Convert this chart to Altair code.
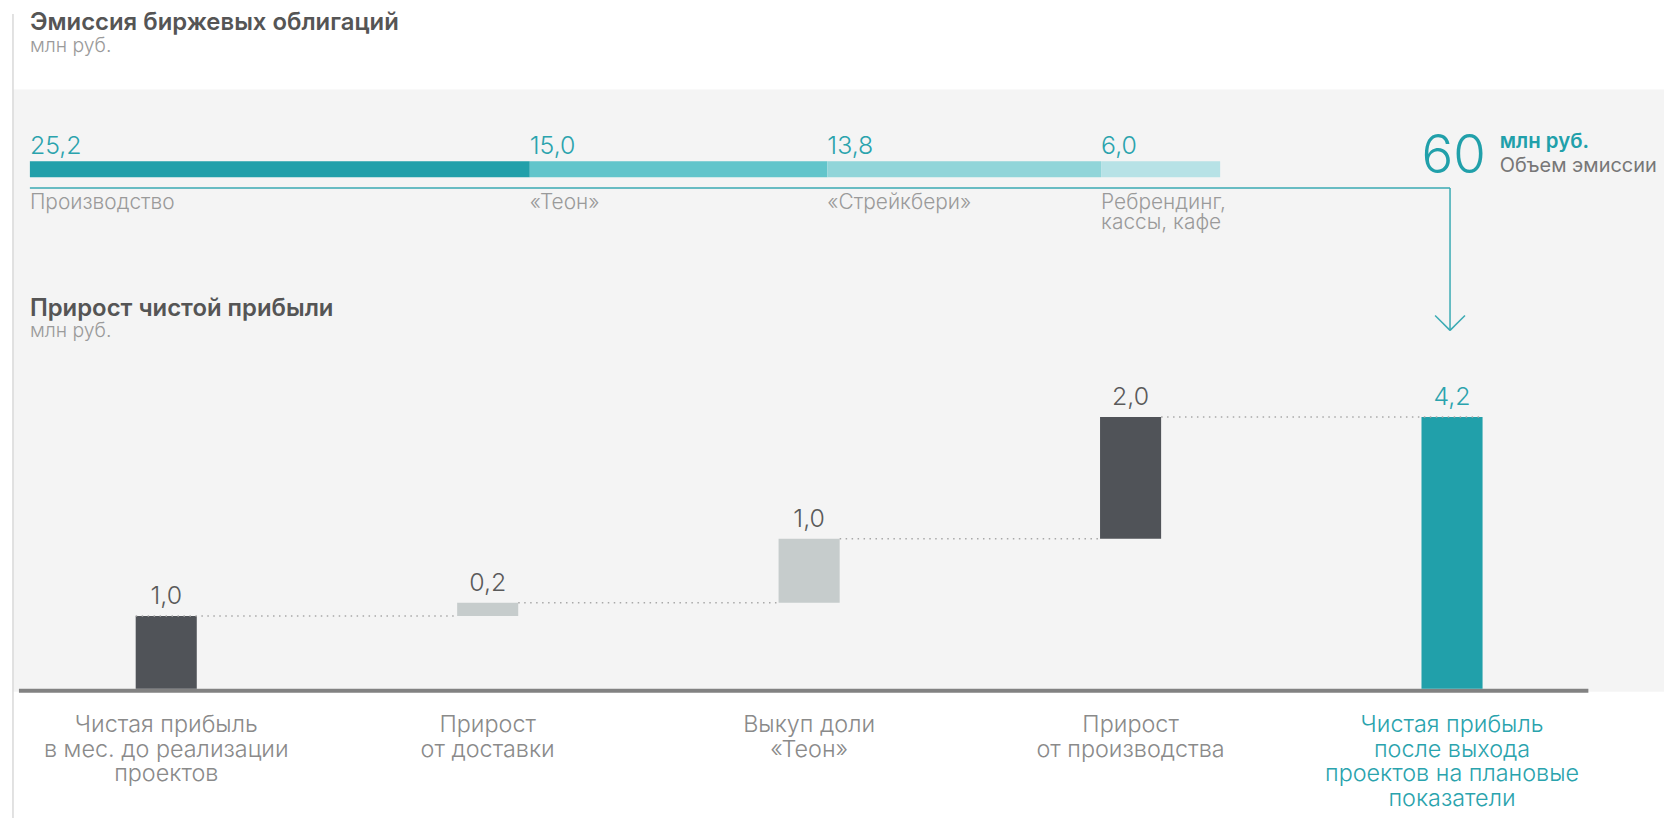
import altair as alt
import pandas as pd

# ---------------- data ----------------
emission_cats = ["Производство", "«Теон»", "«Стрейкбери»", "Ребрендинг,\nкассы, кафе"]
emission_vals = [25.2, 15.0, 13.8, 6.0]
emission_colors = ["#21a0aa", "#62c5cb", "#91d5d9", "#b7e2e6"]
emission_total = 60

wf_labels = [
    "Чистая прибыль\nв мес. до реализации\nпроектов",
    "Прирост\nот доставки",
    "Выкуп доли\n«Теон»",
    "Прирост\nот производства",
    "Чистая прибыль\nпосле выхода\nпроектов на плановые\nпоказатели",
]
wf_vals = [1.0, 0.2, 1.0, 2.0, 4.2]
wf_kind = ["total", "delta", "delta", "delta", "total"]
wf_colors = ["#505358", "#c6cccc", "#c6cccc", "#505358", "#21a0aa"]
wf_text_colors = ["#5a5a5a", "#5a5a5a", "#5a5a5a", "#5a5a5a", "#2aa3ad"]
wf_label_colors = ["#8a8a8a", "#8a8a8a", "#8a8a8a", "#8a8a8a", "#2aa3ad"]


def fmt(v):
    return f"{v:.1f}".replace(".", ",")


# ---------------- tables ----------------
starts, acc = [], 0.0
for v in emission_vals:
    starts.append(acc)
    acc += v
top_df = pd.DataFrame({
    "cat": emission_cats,
    "start": starts,
    "end": [s + v for s, v in zip(starts, emission_vals)],
    "color": emission_colors,
    "label": [fmt(v) for v in emission_vals],
})

HW = 0.095
lo, hi, run = [], [], 0.0
for v, k in zip(wf_vals, wf_kind):
    if k == "total":
        lo.append(0.0); hi.append(v); run = v
    else:
        lo.append(run); hi.append(run + v); run += v
n = len(wf_vals)
wf_df = pd.DataFrame({
    "idx": list(range(n)),
    "x0": [i - HW for i in range(n)],
    "x1": [i + HW for i in range(n)],
    "lo": lo, "hi": hi,
    "color": wf_colors,
    "tcolor": wf_text_colors,
    "lcolor": wf_label_colors,
    "num": [fmt(v) for v in wf_vals],
    "name": wf_labels,
})
dots_df = pd.DataFrame({
    "level": hi[:-1],
    "xs": [(i - HW) if i == 0 else (i + HW) for i in range(n - 1)],
    "xe": [(i + 1 - HW) if i < n - 2 else (i + 1 + HW) for i in range(n - 1)],
})

FONT = "Inter"
TOPX = alt.Scale(domain=[0, emission_total], range=[22, 1218])
WFX = alt.Scale(domain=[0, n - 1], range=[159, 1451])
WFY = alt.Scale(type="pow", exponent=0.92, domain=[0, 4.2], range=[682, 409])

one = alt.Data(values=[{"a": 1}])


def txt(s, x, y, size, color, weight=400, align="left", font=FONT):
    return alt.Chart(one).mark_text(
        align=align, baseline="alphabetic", fontSize=size, font=font,
        fontWeight=weight, color=color, lineBreak="\n"
    ).encode(x=alt.value(x), y=alt.value(y), text=alt.value(s))


def rule(x, x2, y, y2, color, w, dash=None):
    kw = dict(color=color, strokeWidth=w)
    if dash:
        kw["strokeDash"] = dash
    return alt.Chart(one).mark_rule(**kw).encode(
        x=alt.value(x), x2=alt.value(x2), y=alt.value(y), y2=alt.value(y2))


bg = alt.Chart(one).mark_rect(color="#f4f4f4").encode(
    x=alt.value(5), x2=alt.value(1664), y=alt.value(80), y2=alt.value(685))
vline = rule(5, 5, 4, 812, "#d8d8d8", 1.5)
axisline = rule(11, 1588, 684, 684, "#828282", 4)

# ---------------- top emission bar ----------------
top_bars = alt.Chart(top_df).mark_rect().encode(
    x=alt.X("start:Q", scale=TOPX, axis=None), x2="end:Q",
    y=alt.value(152), y2=alt.value(168),
    color=alt.Color("color:N", scale=None))
top_nums = alt.Chart(top_df).mark_text(
    align="left", baseline="alphabetic", fontSize=25, font=FONT, fontWeight=300,
    color="#2aa3ad").encode(
    x=alt.X("start:Q", scale=TOPX, axis=None), y=alt.value(145), text="label:N")
top_names = alt.Chart(top_df).mark_text(
    align="left", baseline="alphabetic", fontSize=21, font=FONT, fontWeight=300,
    color="#9a9a9a", lineBreak="\n", lineHeight=20).encode(
    x=alt.X("start:Q", scale=TOPX, axis=None), y=alt.value(200), text="cat:N")
top_layer = alt.layer(top_bars, top_nums, top_names)

# ---------------- waterfall ----------------
wf_bars = alt.Chart(wf_df).mark_rect().encode(
    x=alt.X("x0:Q", scale=WFX, axis=None), x2="x1:Q",
    y=alt.Y("hi:Q", scale=WFY, axis=None), y2="lo:Q",
    color=alt.Color("color:N", scale=None))
wf_dots = alt.Chart(dots_df).mark_rule(
    color="#a8a8a8", strokeWidth=1.5, strokeDash=[1.5, 4.5]).encode(
    x=alt.X("xs:Q", scale=WFX, axis=None), x2="xe:Q",
    y=alt.Y("level:Q", scale=WFY, axis=None))
wf_nums = alt.Chart(wf_df).mark_text(
    align="center", baseline="alphabetic", fontSize=25, font=FONT, fontWeight=300,
    dy=-12).encode(
    x=alt.X("idx:Q", scale=WFX, axis=None),
    y=alt.Y("hi:Q", scale=WFY, axis=None),
    text="num:N", color=alt.Color("tcolor:N", scale=None))
wf_names = alt.Chart(wf_df).mark_text(
    align="center", baseline="alphabetic", fontSize=23.5, font=FONT, fontWeight=300,
    lineBreak="\n", lineHeight=24.5).encode(
    x=alt.X("idx:Q", scale=WFX, axis=None), y=alt.value(726),
    text="name:N", color=alt.Color("lcolor:N", scale=None))
wf_layer = alt.layer(wf_bars, wf_dots, wf_nums, wf_names)

# ---------------- decorations ----------------
arrow = alt.layer(
    rule(22, 1449, 179, 179, "#3aaab3", 1.5),
    rule(1449, 1449, 179, 322, "#3aaab3", 1.5),
    rule(1434, 1449, 307, 322, "#3aaab3", 1.5),
    rule(1464, 1449, 307, 322, "#3aaab3", 1.5),
)
texts = alt.layer(
    txt("Эмиссия биржевых облигаций", 22, 20, 24, "#555555", 600),
    txt("млн руб.", 22, 42, 19.5, "#9a9a9a", 300),
    txt("Прирост чистой прибыли", 22, 308, 24, "#555555", 600),
    txt("млн руб.", 22, 329, 19.5, "#9a9a9a", 300),
    txt(str(emission_total), 1485, 164, 53, "#21a0aa", 300, align="right"),
    txt("млн руб.", 1499, 139, 20.5, "#21a0aa", 600),
    txt("Объем эмиссии", 1499, 163, 20, "#777777", 400),
)

chart = alt.layer(bg, vline, axisline, top_layer, wf_layer, arrow, texts).resolve_scale(
    x="independent", y="independent"
).properties(
    width=1664, height=810, padding=0,
    autosize=alt.AutoSizeParams(type="none"),
    background="white",
).configure_view(stroke=None)

chart.save("out.html", embed_options={"renderer": "svg", "actions": False})
